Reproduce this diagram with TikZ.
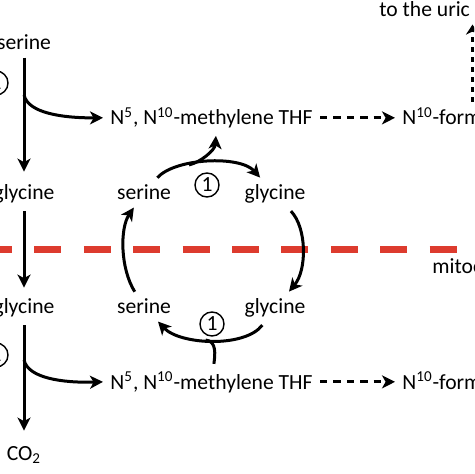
\documentclass[tikz,border=0pt]{standalone}
\usepackage{fontspec}
\setmainfont{Carlito}
\usepackage{tikz}
\usetikzlibrary{arrows.meta}
\definecolor{membraneRed}{HTML}{DD3B2E}
\tikzset{
  txt/.style={inner sep=3.5pt, font=\fontsize{10.8pt}{13pt}\selectfont},
  num/.style={circle, draw, line width=0.7pt, minimum size=12pt, inner sep=0pt, font=\fontsize{10.8pt}{13pt}\selectfont},
  arrow/.style={-{Stealth[length=6.5pt,width=6.5pt,inset=1.8pt]}, line width=1.5pt},
  plain/.style={line width=1.5pt},
  dasharrow/.style={-{Stealth[length=6.5pt,width=6.5pt,inset=1.8pt]}, line width=1.5pt, dash pattern=on 3.7pt off 3pt},
  uricarrow/.style={-{Stealth[length=5pt,width=6.5pt,inset=1.5pt]}, line width=1.6pt, dash pattern=on 2.5pt off 2.5pt},
  membrane/.style={draw=membraneRed, line width=3.5pt, dash pattern=on 13.5pt off 11.2pt}
}

\begin{document}
\begin{tikzpicture}[x=0.5pt, y=-0.5pt]
  \useasboundingbox (0,0) rectangle (474,474);
  \clip (0,0) rectangle (474,474);
  \draw[membrane] (-15,250) -- (457,250);

  \node[txt, anchor=base] (serL) at (24,50) {serine};
  \node[txt, anchor=base] (glyL) at (24,200) {glycine};
  \node[txt, anchor=base] (glyM) at (24,314) {glycine};
  \node[txt, anchor=base] (co2) at (24,460) {CO\textsubscript{2}};
  \node[num] (numL1) at (-4,83) {1};
  \node[num] (numL2) at (-4,355) {1};
  \coordinate (splitL1) at (24,95);
  \coordinate (splitL2) at (24,360);

  \node[txt, anchor=base west] (thfTop) at (103,125) {N\textsuperscript{5}, N\textsuperscript{10}-methylene THF};
  \node[txt, anchor=base west] (thfBot) at (103,389) {N\textsuperscript{5}, N\textsuperscript{10}-methylene THF};
  \node[txt, anchor=base west] (formTop) at (395,125) {N\textsuperscript{10}-formyl THF};
  \node[txt, anchor=base west] (formBot) at (395,389) {N\textsuperscript{10}-formyl THF};
  \node[txt, anchor=base west] (uric) at (372,17) {to the uric acid};
  \node[txt, anchor=base west] (mito) at (425,274) {mitochondria};
  \coordinate (uricFoot) at (472.5,102);

  \node[txt, anchor=base] (serA) at (144,200) {serine};
  \node[txt, anchor=base] (glyA) at (275,200) {glycine};
  \node[txt, anchor=base] (serB) at (144,314) {serine};
  \node[txt, anchor=base] (glyB) at (275,314) {glycine};
  \node[num] (numA) at (207,185) {1};
  \node[num] (numB) at (212,324) {1};
  \coordinate (splitA) at (189,165);
  \coordinate (splitB) at (205.5,340);

  \draw[arrow, shorten >=3pt] (serL) -- (glyL);
  \draw[arrow] (splitL1) .. controls (28,113) and (62,118) .. (thfTop.west);
  \draw[arrow, shorten >=2pt] (glyL) -- (glyM);
  \draw[arrow, shorten >=4pt] (glyM) -- (co2);
  \draw[arrow] (splitL2) .. controls (28,378) and (62,383) .. (thfBot.west);
  \draw[dasharrow] (thfTop.east) -- (formTop.west);
  \draw[dasharrow] (thfBot.east) -- (formBot.west);
  \draw[uricarrow] (uricFoot) -- (uricFoot |- uric.south);

  \draw[arrow] (serA) .. controls (175,158) and (240,155) .. (glyA);
  \draw[arrow] (splitA) .. controls (201,162) and (215,150) .. ([xshift=2.2pt]thfTop.south);
  \draw[arrow] (glyA) .. controls (307,228) and (307,270) .. (glyB);
  \draw[arrow] (glyB) .. controls (245,348) and (180,345) .. (serB);
  \draw[plain] ([xshift=1.2pt]thfBot.north) .. controls (215,355) and (217,341) .. (splitB);
  \draw[arrow] (serB) .. controls (120,268) and (120,228) .. (serA);
\end{tikzpicture}
\end{document}
